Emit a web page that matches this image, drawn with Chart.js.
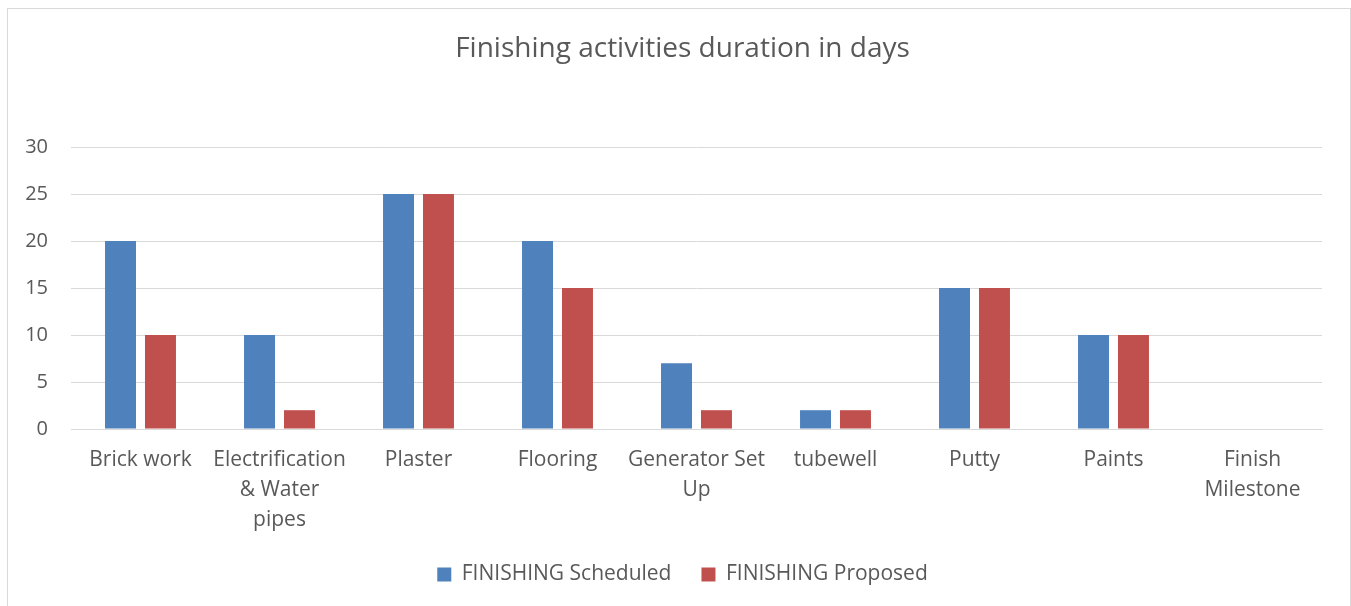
<!DOCTYPE html>
<html>
<head>
<meta charset="utf-8">
<script src="https://cdn.jsdelivr.net/npm/chart.js@4.4.1/dist/chart.umd.min.js"></script>
<style>
  html, body { margin: 0; padding: 0; background: #fff; overflow: hidden; }
  #frame { position: absolute; left: 7px; top: 8px; width: 1344px; height: 700px; box-sizing: border-box; border: 1px solid #d9d9d9; }
  #wrap { position: absolute; left: 0; top: 0; width: 1351px; height: 606px; }
</style>
</head>
<body>
<div id="frame"></div>
<div id="wrap"><canvas id="finish-chart" width="1351" height="606"></canvas></div>
<script>
const activities = [
  'Brick work',
  ['Electrification', '& Water', 'pipes'],
  'Plaster',
  'Flooring',
  ['Generator Set', 'Up'],
  'tubewell',
  'Putty',
  'Paints',
  ['Finish', 'Milestone']
];
const scheduledDays = [20, 10, 25, 20, 7, 2, 15, 10, 0];
const proposedDays = [10, 2, 25, 15, 2, 2, 15, 10, 0];
const yTicks = [0, 5, 10, 15, 20, 25, 30];

const textColor = '#595959';
const gridColor = '#d9d9d9';

function drawChart() {
  const canvas = document.getElementById('finish-chart');
  if (!canvas) return;

  const ctx = canvas.getContext('2d');
  new Chart(ctx, {
    type: 'bar',
    data: {
      labels: activities,
      datasets: [{
        label: 'FINISHING Scheduled',
        data: scheduledDays,
        backgroundColor: '#4f81bd',
        categoryPercentage: 0.575,
        barPercentage: 0.775
      }, {
        label: 'FINISHING Proposed',
        data: proposedDays,
        backgroundColor: '#c0504d',
        categoryPercentage: 0.575,
        barPercentage: 0.775
      }]
    },
    options: {
      responsive: false,
      animation: false,
      layout: { padding: { left: 14, right: 0, top: 0, bottom: 11 } },
      scales: {
        x: {
          grid: { display: false, drawTicks: false },
          border: { color: gridColor, width: 1 },
          ticks: {
            color: textColor,
            padding: 16,
            maxRotation: 0,
            autoSkip: false,
            font: { family: '"Open Sans", sans-serif', size: 21, lineHeight: 1.43 }
          },
          afterFit: (scale) => { scale.height = 105; }
        },
        y: {
          min: yTicks[0],
          max: yTicks[yTicks.length - 1],
          grid: { color: gridColor, drawTicks: false },
          border: { display: false },
          ticks: {
            stepSize: yTicks[1] - yTicks[0],
            color: textColor,
            padding: 23,
            font: { family: '"Open Sans", sans-serif', size: 20 }
          },
          afterFit: (scale) => { scale.width = 57; }
        },
        // empty right-hand spacer so the plot ends where the reference does
        yRight: {
          position: 'right',
          grid: { display: false, drawTicks: false },
          border: { display: false },
          ticks: { display: false },
          afterFit: (scale) => { scale.width = 29; }
        }
      },
      plugins: {
        title: {
          display: true,
          text: 'Finishing activities duration in days',
          color: textColor,
          font: { family: '"Open Sans", sans-serif', size: 28, weight: 'normal', lineHeight: 1.2 },
          padding: { top: 32.2, bottom: 81.2 }
        },
        legend: {
          position: 'bottom',
          labels: {
            color: textColor,
            boxWidth: 14,
            boxHeight: 14,
            padding: 30,
            font: { family: '"Open Sans", sans-serif', size: 21 }
          }
        },
        tooltip: { enabled: false }
      }
    }
  });
}

document.addEventListener('DOMContentLoaded', () => {
  drawChart();
});
</script>
</body>
</html>
